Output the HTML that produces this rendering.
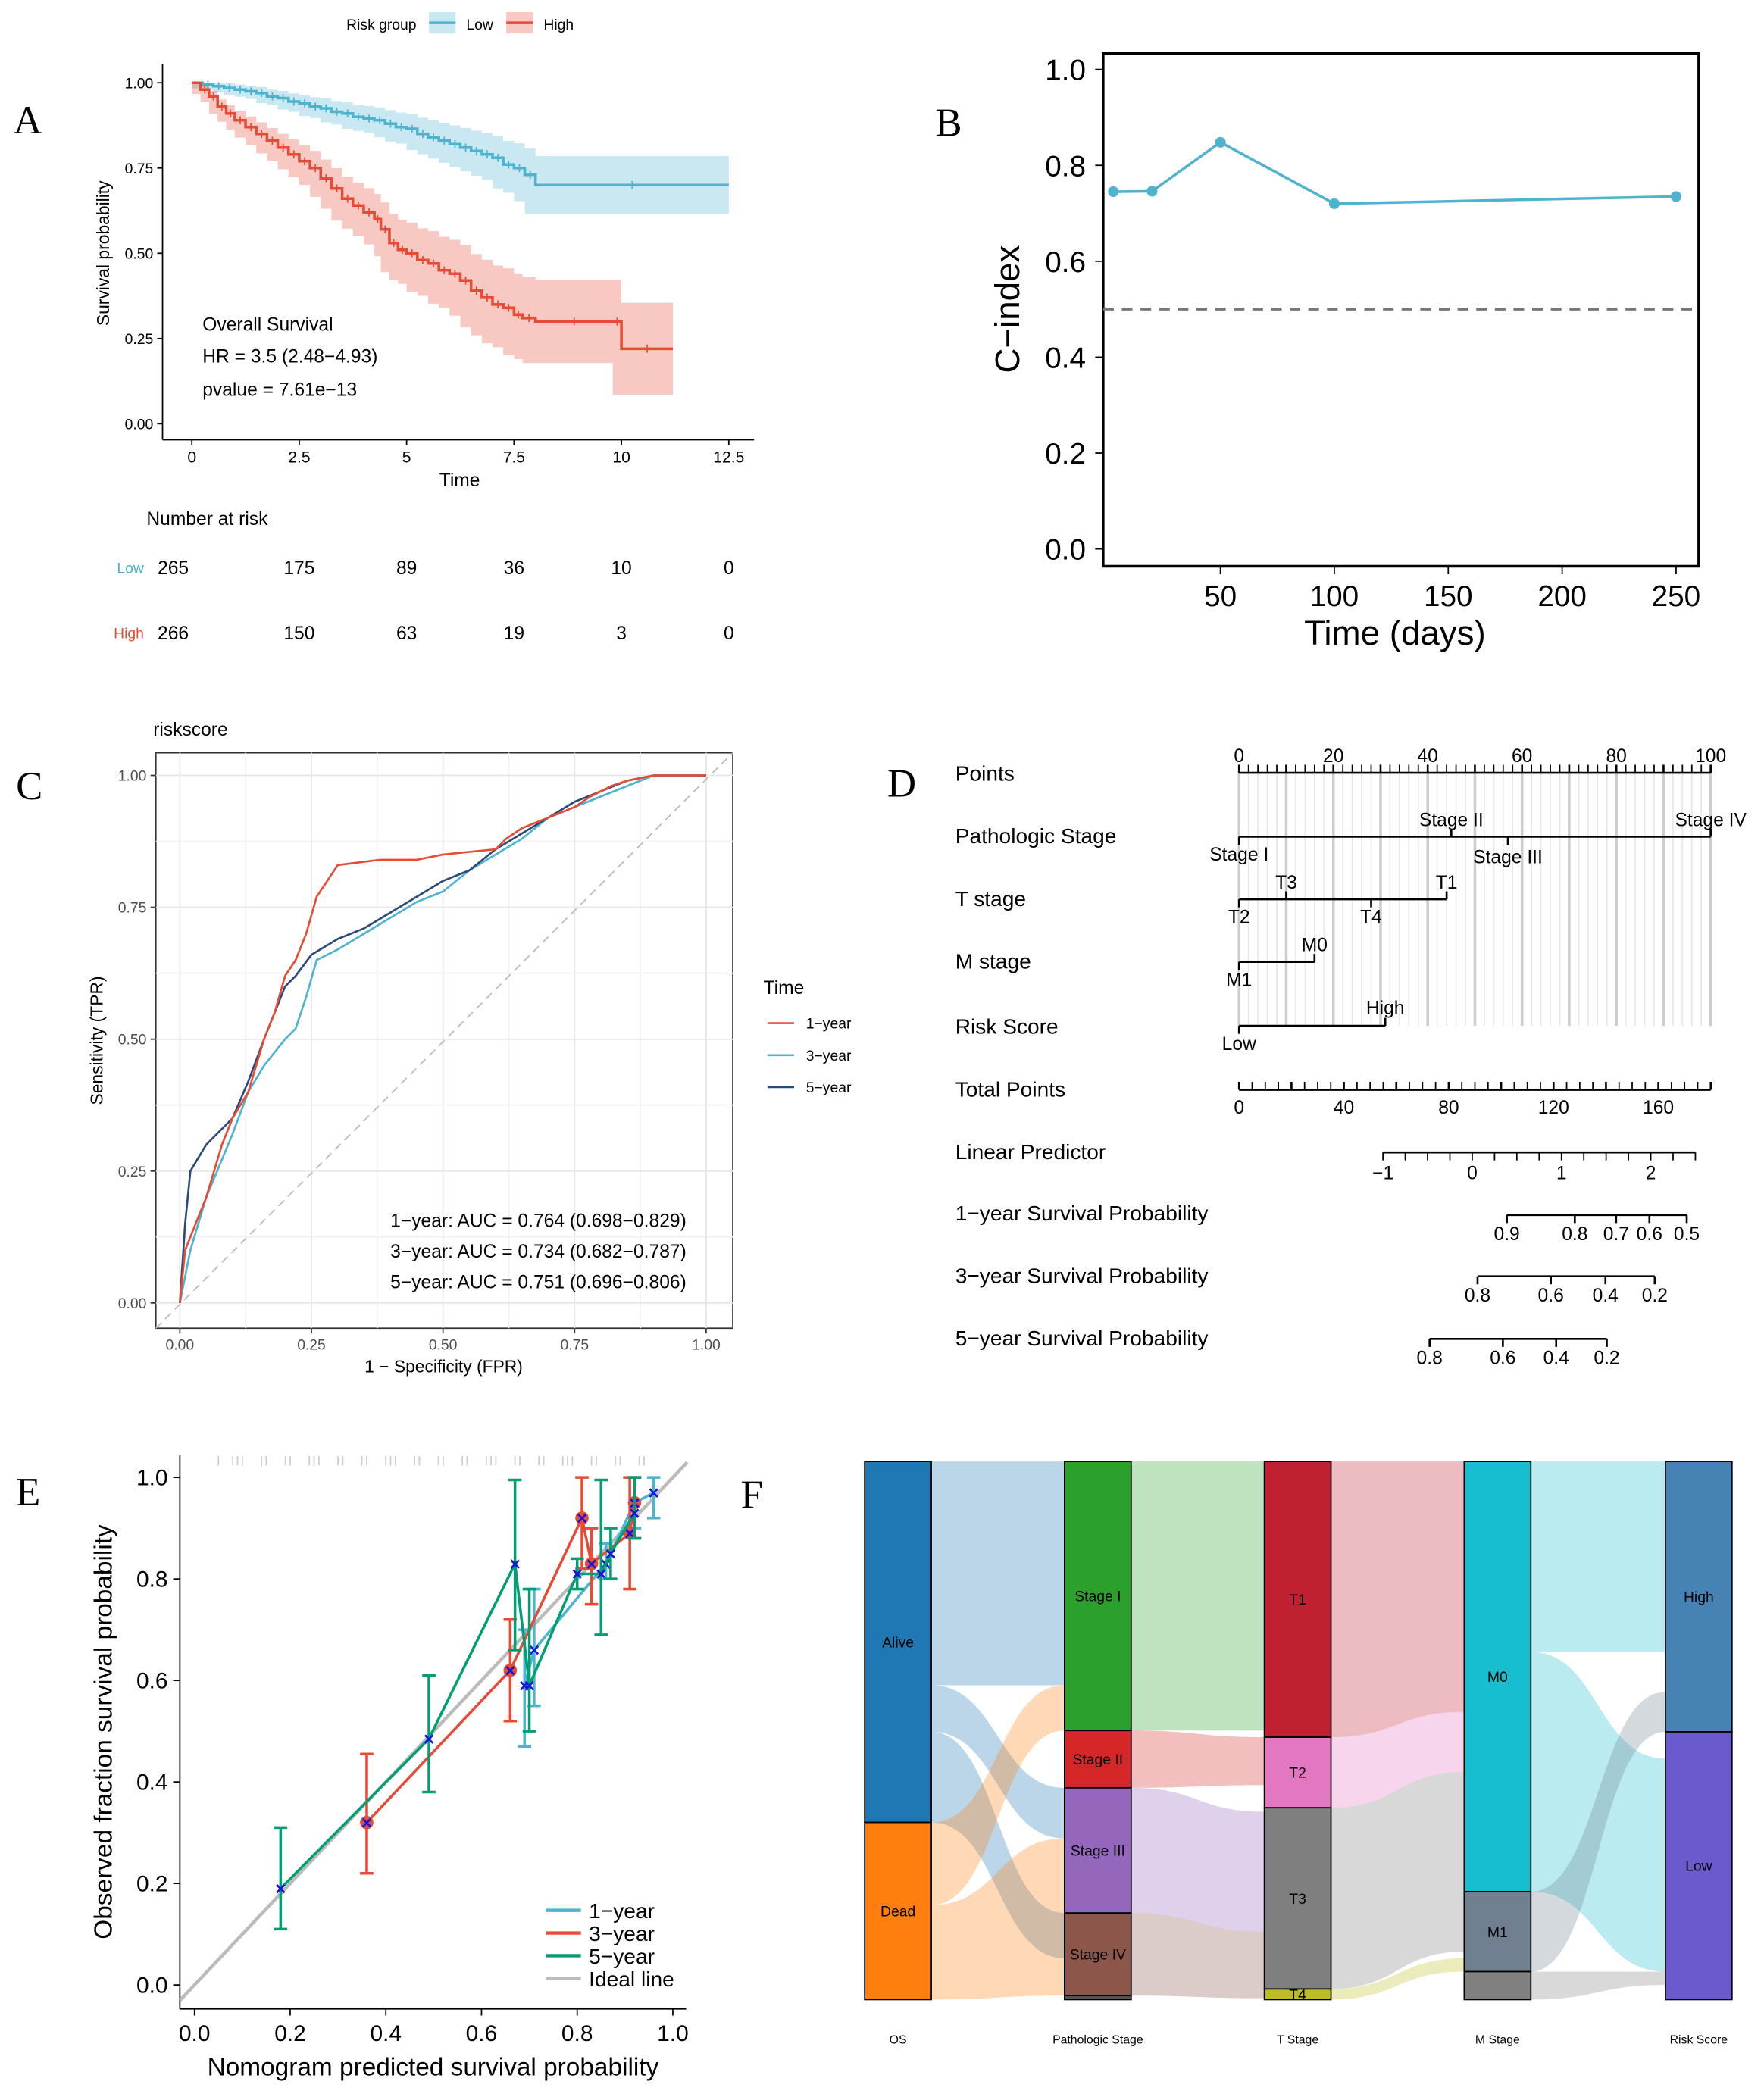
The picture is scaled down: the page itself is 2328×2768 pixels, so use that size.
<!DOCTYPE html>
<html><head><meta charset="utf-8"><style>
html,body{margin:0;padding:0;background:#fff}
svg{display:block;font-family:"Liberation Sans",Arial,sans-serif}
</style></head><body>
<svg id="fig" width="2328" height="2768" viewBox="0 0 1324 1574" xmlns="http://www.w3.org/2000/svg">
<g font-family="Liberation Serif,serif" font-size="30" fill="#000">
<text x="10" y="100">A</text>
<text x="702" y="102">B</text>
<text x="12" y="600">C</text>
<text x="666" y="598">D</text>
<text x="12" y="1130">E</text>
<text x="556" y="1132">F</text>
</g>
<g id="A"></g>
<g id="B"></g>
<g id="C"></g>
<g id="D"></g>
<g id="E"></g>
<g id="F"></g>
</svg>
<script>
// ---- data ----
const kmLowT=[0,0.25,0.5,0.75,1,1.25,1.5,1.75,2,2.25,2.5,2.75,3,3.25,3.5,3.75,4,4.25,4.5,4.75,5,5.25,5.5,5.75,6,6.25,6.5,6.75,7,7.25,7.5,7.75,8,12.5];
const kmLowS=[1,0.995,0.99,0.985,0.98,0.975,0.97,0.96,0.955,0.945,0.94,0.93,0.925,0.915,0.91,0.9,0.895,0.89,0.88,0.87,0.865,0.85,0.84,0.83,0.82,0.81,0.8,0.79,0.78,0.76,0.75,0.73,0.7,0.7];
const kmHighT=[0,0.2,0.4,0.6,0.8,1,1.25,1.5,1.75,2,2.25,2.5,2.75,3,3.25,3.5,3.75,4,4.25,4.4,4.6,4.8,5,5.25,5.5,5.75,6,6.25,6.5,6.75,7,7.25,7.5,7.7,8,9.8,10,11.2];
const kmHighS=[1,0.98,0.96,0.93,0.91,0.89,0.87,0.85,0.83,0.81,0.79,0.77,0.75,0.72,0.69,0.66,0.64,0.62,0.6,0.57,0.53,0.51,0.5,0.48,0.47,0.45,0.44,0.42,0.39,0.37,0.35,0.34,0.32,0.31,0.3,0.3,0.22,0.22];
const kmTicks=[0,2.5,5,7.5,10,12.5];
const riskLow=[265,175,89,36,10,0];
const riskHigh=[266,150,63,19,3,0];
const cTimes=[3,20,50,100,250];
const cIndex=[0.745,0.746,0.848,0.72,0.735];
const roc1F=[0,0.01,0.03,0.05,0.08,0.1,0.13,0.16,0.18,0.2,0.22,0.24,0.26,0.28,0.3,0.38,0.45,0.5,0.6,0.62,0.65,0.7,0.75,0.78,0.82,0.85,0.9,1];
const roc1T=[0,0.1,0.15,0.2,0.3,0.35,0.4,0.5,0.55,0.62,0.65,0.7,0.77,0.8,0.83,0.84,0.84,0.85,0.86,0.88,0.9,0.92,0.94,0.96,0.98,0.99,1,1];
const roc3F=[0,0.02,0.05,0.1,0.13,0.16,0.2,0.22,0.24,0.26,0.3,0.35,0.4,0.45,0.5,0.55,0.6,0.65,0.7,0.75,0.8,0.85,0.9,1];
const roc3T=[0,0.1,0.2,0.32,0.4,0.45,0.5,0.52,0.58,0.65,0.67,0.7,0.73,0.76,0.78,0.82,0.85,0.88,0.92,0.94,0.96,0.98,1,1];
const roc5F=[0,0.01,0.02,0.05,0.1,0.13,0.16,0.2,0.22,0.25,0.3,0.35,0.4,0.45,0.5,0.55,0.6,0.65,0.7,0.75,0.8,0.85,0.9,1];
const roc5T=[0,0.15,0.25,0.3,0.35,0.42,0.5,0.6,0.62,0.66,0.69,0.71,0.74,0.77,0.8,0.82,0.86,0.89,0.92,0.95,0.97,0.99,1,1];
const cal1X=[0.69,0.71,0.86,0.92,0.96];
const cal1Y=[0.59,0.66,0.83,0.95,0.97];
const cal1Lo=[0.47,0.55,0.8,0.9,0.92];
const cal1Hi=[0.7,0.78,0.87,1.0,1.0];
const cal3X=[0.36,0.66,0.81,0.83,0.91,0.92];
const cal3Y=[0.32,0.62,0.92,0.83,0.89,0.95];
const cal3Lo=[0.22,0.52,0.82,0.75,0.78,0.88];
const cal3Hi=[0.455,0.72,1.0,0.9,1.0,1.0];
const cal5X=[0.18,0.49,0.67,0.70,0.80,0.85,0.87,0.92];
const cal5Y=[0.19,0.485,0.83,0.59,0.81,0.81,0.85,0.93];
const cal5Lo=[0.11,0.38,0.66,0.5,0.78,0.69,0.8,0.88];
const cal5Hi=[0.31,0.61,0.995,0.78,0.84,0.995,0.9,1.0];

const NS="http://www.w3.org/2000/svg";
function el(p,tag,a,txt){const e=document.createElementNS(NS,tag);for(const k in a)e.setAttribute(k,a[k]);if(txt!==undefined)e.textContent=txt;p.appendChild(e);return e;}
function T(p,x,y,s,fs,anchor,name,extra){const e=el(p,'text',Object.assign({x:x,y:y,'font-size':fs,'text-anchor':anchor||'start'},extra||{}),s);

return e;}

// ---- A ----
(function(){const g=document.getElementById('A');
const X=t=>144+t*32.24, Y=s=>318-s*256;
T(g,260,22,'Risk group',11,'start','legend-title');
[['Low','#4db3cf',322],['High','#e64b35',380]].forEach(l=>{const r=el(g,'rect',{x:l[2],y:9,width:20,height:16,fill:l[1],'fill-opacity':0.3});

el(g,'line',{x1:l[2],x2:l[2]+20,y1:17,y2:17,stroke:l[1],'stroke-width':2});
T(g,l[2]+28,22,l[0],11,'start','legend-entry-'+l[0].toLowerCase());});
el(g,'line',{x1:122,x2:122,y1:48,y2:330,stroke:'#000'});el(g,'line',{x1:122,x2:566,y1:330,y2:330,stroke:'#000'});
[0,0.25,0.5,0.75,1].forEach(v=>{el(g,'line',{x1:118,x2:122,y1:Y(v),y2:Y(v),stroke:'#000'});T(g,115,Y(v)+4,v.toFixed(2),11,'end','y-tick');});
kmTicks.forEach(v=>{el(g,'line',{x1:X(v),x2:X(v),y1:330,y2:334,stroke:'#000'});T(g,X(v),347,String(v),12,'middle','x-tick');});
T(g,345,365,'Time',14,'middle','x-axis-title');
T(g,82,190,'Survival probability',13,'middle','y-axis-title',{transform:'rotate(-90 82 190)'});
function curve(ts,ss,col,band,name){let p='M'+X(ts[0])+' '+Y(ss[0]);for(let i=1;i<ts.length;i++)p+=' H'+X(ts[i])+' V'+Y(ss[i]);
let up=[],dn=[];for(let i=0;i<ts.length;i++){const w=band*(1-ss[i])+0.01;up.push([X(ts[i]),Y(Math.min(1,ss[i]+w))]);dn.push([X(ts[i]),Y(Math.max(0,ss[i]-w))]);}
let bp='M'+up[0][0]+' '+up[0][1];for(let i=1;i<up.length;i++)bp+=' H'+up[i][0]+' V'+up[i][1];
bp+=' V'+dn[dn.length-1][1];for(let i=dn.length-1;i>0;i--)bp+=' H'+dn[i-1][0]+' V'+dn[i-1][1];bp+='Z';
const b=el(g,'path',{d:bp,fill:col,'fill-opacity':0.3});
const l=el(g,'path',{d:p,fill:'none',stroke:col,'stroke-width':2});
for(let i=1;i<ts.length-1;i++){const xm=(X(ts[i])+X(ts[i+1]))/2;el(g,'line',{x1:xm,x2:xm,y1:Y(ss[i])-3,y2:Y(ss[i])+3,stroke:col});}}
curve(kmLowT,kmLowS,'#4db3cf',0.25,'low-risk');curve(kmHighT,kmHighS,'#e64b35',0.16,'high-risk');
T(g,152,248,'Overall Survival',14,'start','annotation');T(g,152,272,'HR = 3.5 (2.48−4.93)',14,'start','annotation');T(g,152,297,'pvalue = 7.61e−13',14,'start','annotation');
T(g,110,394,'Number at risk',14,'start','risk-table-title');
T(g,108,430,'Low',11,'end','risk-row-label',{fill:'#4db3cf'});T(g,108,479,'High',11,'end','risk-row-label',{fill:'#e64b35'});
kmTicks.forEach((v,i)=>{const x=i==0?130:X(v);T(g,x,431,String(riskLow[i]),14,'middle','risk-low');T(g,x,480,String(riskHigh[i]),14,'middle','risk-high');});
})();

// ---- B ----
(function(){const g=document.getElementById('B');
const X=d=>916+(d-50)*1.71, Y=v=>412-v*360;
el(g,'rect',{x:828,y:40,width:447,height:385,fill:'none',stroke:'#000','stroke-width':2});
[0,0.2,0.4,0.6,0.8,1].forEach(v=>{el(g,'line',{x1:822,x2:828,y1:Y(v),y2:Y(v),stroke:'#000'});T(g,815,Y(v)+8,v.toFixed(1),22,'end','y-tick');});
[50,100,150,200,250].forEach(v=>{el(g,'line',{x1:X(v),x2:X(v),y1:425,y2:431,stroke:'#000'});T(g,X(v),455,String(v),22,'middle','x-tick');});
T(g,1047,484,'Time (days)',26,'middle','x-axis-title');
T(g,765,232,'C−index',26,'middle','y-axis-title',{transform:'rotate(-90 765 232)'});
el(g,'line',{x1:828,x2:1275,y1:Y(0.5),y2:Y(0.5),stroke:'#777','stroke-width':2,'stroke-dasharray':'8 6'});
const l=el(g,'polyline',{points:cTimes.map((t,i)=>X(t)+','+Y(cIndex[i])).join(' '),fill:'none',stroke:'#4db3cf','stroke-width':2});

cTimes.forEach((t,i)=>{const c=el(g,'circle',{cx:X(t),cy:Y(cIndex[i]),r:4,fill:'#4db3cf'});});
})();

// ---- C ----
(function(){const g=document.getElementById('C');
const X=f=>135+f*395, Y=t=>978-t*396;
el(g,'rect',{x:117,y:565,width:433,height:432,fill:'#fff',stroke:'#333'});
[0.125,0.375,0.625,0.875].forEach(v=>{el(g,'line',{x1:X(v),x2:X(v),y1:565,y2:997,stroke:'#f2f2f2'});el(g,'line',{x1:117,x2:550,y1:Y(v),y2:Y(v),stroke:'#f2f2f2'});});
[0,0.25,0.5,0.75,1].forEach(v=>{el(g,'line',{x1:X(v),x2:X(v),y1:565,y2:997,stroke:'#e6e6e6'});el(g,'line',{x1:117,x2:550,y1:Y(v),y2:Y(v),stroke:'#e6e6e6'});
el(g,'line',{x1:X(v),x2:X(v),y1:997,y2:1001,stroke:'#333'});T(g,X(v),1013,v.toFixed(2),11,'middle','x-tick',{fill:'#4d4d4d'});
el(g,'line',{x1:113,x2:117,y1:Y(v),y2:Y(v),stroke:'#333'});T(g,110,Y(v)+4,v.toFixed(2),11,'end','y-tick',{fill:'#4d4d4d'});});
el(g,'line',{x1:117,x2:550,y1:997,y2:565,stroke:'#bbb','stroke-dasharray':'6 4'});
T(g,115,552,'riskscore',14,'start','chart-title');
T(g,333,1030,'1 − Specificity (FPR)',13,'middle','x-axis-title');
T(g,77,781,'Sensitivity (TPR)',13,'middle','y-axis-title',{transform:'rotate(-90 77 781)'});
[[roc3F,roc3T,'#4db3cf','roc-3-year'],[roc5F,roc5T,'#2b4a7a','roc-5-year'],[roc1F,roc1T,'#e64b35','roc-1-year']].forEach(r=>{
const l=el(g,'polyline',{points:r[0].map((f,i)=>X(f)+','+Y(r[1][i])).join(' '),fill:'none',stroke:r[2],'stroke-width':1.5});
});
T(g,293,921,'1−year: AUC = 0.764 (0.698−0.829)',14,'start','auc-label');
T(g,293,944,'3−year: AUC = 0.734 (0.682−0.787)',14,'start','auc-label');
T(g,293,967,'5−year: AUC = 0.751 (0.696−0.806)',14,'start','auc-label');
T(g,573,746,'Time',14,'start','legend-title');
[['1−year','#e64b35',768],['3−year','#4db3cf',792],['5−year','#2b4a7a',816]].forEach(l=>{el(g,'line',{x1:576,x2:596,y1:l[2],y2:l[2],stroke:l[1],'stroke-width':1.5});T(g,605,l[2]+4,l[0],11,'start','legend-entry');});
})();

// ---- D ----
(function(){const g=document.getElementById('D');
const P=v=>930+v*3.54;
const rows=[['Points',586],['Pathologic Stage',633],['T stage',680],['M stage',727],['Risk Score',776],['Total Points',823],['Linear Predictor',870],['1−year Survival Probability',916],['3−year Survival Probability',963],['5−year Survival Probability',1010]];
rows.forEach(r=>T(g,717,r[1],r[0],16,'start','row-label'));
for(let v=0;v<=100;v+=2){el(g,'line',{x1:P(v),x2:P(v),y1:580,y2:770,stroke:v%10==0?'#ccc':'#e8e8e8','stroke-width':v%10==0?2:1});}
el(g,'line',{x1:P(0),x2:P(100),y1:580,y2:580,stroke:'#000','stroke-width':1.5});
for(let v=0;v<=100;v+=2)el(g,'line',{x1:P(v),x2:P(v),y1:574,y2:580,stroke:'#000','stroke-width':v%10==0?1.5:1});
[0,20,40,60,80,100].forEach(v=>T(g,P(v),572,String(v),14,'middle','points-tick'));
function axis(x0,x1,y,ticks){el(g,'line',{x1:x0,x2:x1,y1:y,y2:y,stroke:'#000','stroke-width':1.5});ticks.forEach(t=>el(g,'line',{x1:t[0],x2:t[0],y1:y,y2:y+(t[2]||-6),stroke:'#000','stroke-width':1.5}));ticks.forEach(t=>{if(t[1])T(g,t[0],t[3],t[1],14,'middle','tick-label');});}
axis(P(0),P(100),628,[[P(0),'Stage I',6,646],[P(45),'Stage II',-6,620],[P(57),'Stage III',6,648],[P(100),'Stage IV',-6,620]]);
axis(P(0),P(44),675,[[P(0),'T2',6,693],[P(10),'T3',-6,667],[P(28),'T4',6,693],[P(44),'T1',-6,667]]);
axis(P(0),P(16),722,[[P(0),'M1',6,740],[P(16),'M0',-6,714]]);
axis(P(0),P(31),770,[[P(0),'Low',6,788],[P(31),'High',-6,761]]);
const TP=v=>930+v*1.967;
el(g,'line',{x1:930,x2:1284,y1:818,y2:818,stroke:'#000','stroke-width':1.5});
for(let v=0;v<=180;v+=5)el(g,'line',{x1:TP(v),x2:TP(v),y1:818,y2:812,stroke:'#000','stroke-width':v%20==0?1.5:1});
[0,40,80,120,160].forEach(v=>T(g,TP(v),836,String(v),14,'middle','total-points-tick'));
const LP=v=>1105+v*67;
el(g,'line',{x1:LP(-1),x2:LP(2.5),y1:865,y2:865,stroke:'#000','stroke-width':1.5});
for(let v=-1;v<=2.5;v+=0.25)el(g,'line',{x1:LP(v),x2:LP(v),y1:865,y2:871,stroke:'#000'});
[-1,0,1,2].forEach(v=>T(g,LP(v),885,v<0?'−1':String(v),14,'middle','linear-predictor-tick'));
axis(1131,1266,912,[[1131,'0.9',6,931],[1182,'0.8',6,931],[1213,'0.7',6,931],[1238,'0.6',6,931],[1266,'0.5',6,931]]);
axis(1109,1242,958,[[1109,'0.8',6,977],[1164,'0.6',6,977],[1205,'0.4',6,977],[1242,'0.2',6,977]]);
axis(1073,1206,1005,[[1073,'0.8',6,1024],[1128,'0.6',6,1024],[1168,'0.4',6,1024],[1206,'0.2',6,1024]]);
})();

// ---- E ----
(function(){const g=document.getElementById('E');
const X=v=>146+v*359, Y=v=>1490-v*381;
el(g,'line',{x1:135,x2:135,y1:1092,y2:1508,stroke:'#000'});el(g,'line',{x1:135,x2:515,y1:1508,y2:1508,stroke:'#000'});
[0,0.2,0.4,0.6,0.8,1].forEach(v=>{el(g,'line',{x1:130,x2:135,y1:Y(v),y2:Y(v),stroke:'#000'});T(g,126,Y(v)+6,v.toFixed(1),17,'end','y-tick');
el(g,'line',{x1:X(v),x2:X(v),y1:1508,y2:1513,stroke:'#000'});T(g,X(v),1532,v.toFixed(1),17,'middle','x-tick');});
T(g,325,1558,'Nomogram predicted survival probability',19,'middle','x-axis-title');
T(g,84,1300,'Observed fraction survival probability',19,'middle','y-axis-title',{transform:'rotate(-90 84 1300)'});
for(let i=0;i<40;i++){const v=0.05+((i*37)%90)/100;el(g,'line',{x1:X(v),x2:X(v),y1:1093,y2:1100,stroke:'#ccc'});}
el(g,'line',{x1:X(-0.03),x2:X(1.03),y1:Y(-0.03),y2:Y(1.03),stroke:'#bbb','stroke-width':2.5});
function series(xs,ys,lo,hi,col,name,mark){
const l=el(g,'polyline',{points:xs.map((x,i)=>X(x)+','+Y(ys[i])).join(' '),fill:'none',stroke:col,'stroke-width':2});
xs.forEach((x,i)=>{el(g,'line',{x1:X(x),x2:X(x),y1:Y(lo[i]),y2:Y(hi[i]),stroke:col,'stroke-width':2});
el(g,'line',{x1:X(x)-5,x2:X(x)+5,y1:Y(lo[i]),y2:Y(lo[i]),stroke:col,'stroke-width':2});el(g,'line',{x1:X(x)-5,x2:X(x)+5,y1:Y(hi[i]),y2:Y(hi[i]),stroke:col,'stroke-width':2});
if(mark)el(g,'circle',{cx:X(x),cy:Y(ys[i]),r:5,fill:col});
el(g,'text',{x:X(x),y:Y(ys[i])+5,'font-size':14,'text-anchor':'middle',fill:'#1515e0','font-weight':'bold'},'×');});}
series(cal1X,cal1Y,cal1Lo,cal1Hi,'#4db3cf','calibration-1-year',false);
series(cal3X,cal3Y,cal3Lo,cal3Hi,'#e64b35','calibration-3-year',true);
series(cal5X,cal5Y,cal5Lo,cal5Hi,'#009e73','calibration-5-year',false);
[['1−year','#4db3cf',1440],['3−year','#e64b35',1457],['5−year','#009e73',1474],['Ideal line','#bbb',1491]].forEach(l=>{el(g,'line',{x1:410,x2:436,y1:l[2]-6,y2:l[2]-6,stroke:l[1],'stroke-width':2.5});T(g,442,l[2],l[0],16,'start','legend-entry');});
})();

// ---- F ----
(function(){const g=document.getElementById('F');
const cols=[649,799,949,1099,1250],W=50;
const nodes=[
[['Alive',1097,1368,'#1f77b4'],['Dead',1368,1501,'#ff7f0e']],
[['Stage I',1097,1299,'#2ca02c'],['Stage II',1299,1342,'#d62728'],['Stage III',1342,1436,'#9467bd'],['Stage IV',1436,1498,'#8c564b'],['',1498,1501,'#555']],
[['T1',1097,1304,'#c02030'],['T2',1304,1357,'#e377c2'],['T3',1357,1493,'#7f7f7f'],['T4',1493,1501,'#bcbd22']],
[['M0',1097,1420,'#17becf'],['M1',1420,1480,'#708090'],['',1480,1501,'#808080']],
[['High',1097,1300,'#4682b4'],['Low',1300,1501,'#6a5acd']]];
const flows=[
[0,1097,1265,1097,1265,'#1f77b4'],[0,1265,1300,1342,1380,'#1f77b4'],[0,1300,1368,1436,1470,'#1f77b4'],
[0,1368,1430,1265,1299,'#ff7f0e'],[0,1430,1501,1380,1498,'#ff7f0e'],
[1,1097,1299,1097,1299,'#2ca02c'],[1,1299,1342,1304,1340,'#d62728'],[1,1342,1436,1360,1450,'#9467bd'],[1,1436,1498,1450,1500,'#8c564b'],
[2,1097,1304,1097,1285,'#c02030'],[2,1304,1357,1285,1330,'#e377c2'],[2,1357,1493,1330,1465,'#7f7f7f'],[2,1493,1501,1470,1480,'#bcbd22'],
[3,1097,1240,1097,1240,'#17becf'],[3,1240,1420,1320,1480,'#17becf'],[3,1420,1480,1270,1300,'#708090'],[3,1480,1501,1480,1490,'#808080']];
flows.forEach(f=>{const x0=cols[f[0]]+W,x1=cols[f[0]+1],m=(x0+x1)/2;
const d=`M${x0} ${f[1]} C${m} ${f[1]} ${m} ${f[3]} ${x1} ${f[3]} L${x1} ${f[4]} C${m} ${f[4]} ${m} ${f[2]} ${x0} ${f[2]}Z`;
const p=el(g,'path',{d:d,fill:f[5],'fill-opacity':0.3});});
nodes.forEach((col,ci)=>col.forEach(n=>{const r=el(g,'rect',{x:cols[ci],y:n[1],width:W,height:n[2]-n[1],fill:n[3],stroke:'#000','stroke-width':1});

if(n[0])T(g,cols[ci]+W/2,(n[1]+n[2])/2+4,n[0],11,'middle','node-label');}));
['OS','Pathologic Stage','T Stage','M Stage','Risk Score'].forEach((s,i)=>T(g,cols[i]+W/2,1534,s,9,'middle','axis-label'));
})();
</script>
</body></html>
